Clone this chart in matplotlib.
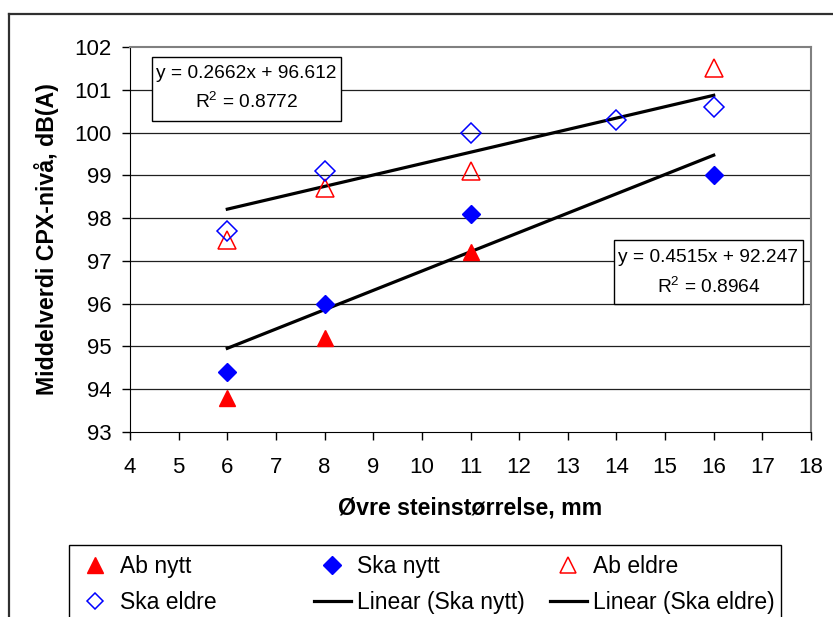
import numpy as np
import matplotlib
matplotlib.use("Agg")
import matplotlib.pyplot as plt
from matplotlib.lines import Line2D
from matplotlib.patches import Rectangle

plt.rcParams['font.family'] = ['Liberation Sans', 'DejaVu Sans']
plt.rcParams['mathtext.default'] = 'regular'

# ---- data ----
x_ab_nytt = [6, 8, 11]
y_ab_nytt = [93.8, 95.2, 97.2]
x_ska_nytt = [6, 8, 11, 16]
y_ska_nytt = [94.4, 96.0, 98.1, 99.0]
x_ab_eldre = [6, 8, 11, 16]
y_ab_eldre = [97.5, 98.7, 99.1, 101.5]
x_ska_eldre = [6, 8, 11, 14, 16]
y_ska_eldre = [97.7, 99.1, 100.0, 100.3, 100.6]
eq_ska_eldre = ["y = 0.2662x + 96.612", "R$^2$ = 0.8772"]
eq_ska_nytt = ["y = 0.4515x + 92.247", "R$^2$ = 0.8964"]
x_ticks = list(range(4, 19))
y_ticks = list(range(93, 103))

W, H = 833, 617
fig = plt.figure(figsize=(W / 100, H / 100), dpi=100)
fig.patch.set_facecolor('white')

def fx(px):
    return px / W

def fy(py):
    return 1 - py / H

ax = fig.add_axes([fx(130), fy(432), fx(811) - fx(130), fy(47) - fy(432)])
ax.set_xlim(4, 18)
ax.set_ylim(93, 102)
ax.set_xticks(x_ticks)
ax.set_yticks(y_ticks)
ax.tick_params(axis='both', direction='out', length=6, width=1, labelsize=16, colors='black')
ax.tick_params(axis='y', pad=7)
ax.tick_params(axis='x', pad=12)
for y in y_ticks[1:-1]:
    ax.axhline(y, color='#202020', lw=0.9, zorder=1)
ax.spines['left'].set_color('black')
ax.spines['bottom'].set_color('black')
ax.spines['top'].set_color('#808080')
ax.spines['right'].set_color('#808080')
ax.spines['top'].set_linewidth(1.5)
ax.spines['right'].set_linewidth(1.5)

# trend lines
def trend(xs, ys):
    k, m = np.polyfit(xs, ys, 1)
    xx = np.array([min(xs), max(xs)])
    return xx, k * xx + m

tx1, ty1 = trend(x_ska_nytt, y_ska_nytt)
tx2, ty2 = trend(x_ska_eldre, y_ska_eldre)
ax.plot(tx1, ty1, color='black', lw=2.3, zorder=3)
ax.plot(tx2, ty2, color='black', lw=2.3, zorder=3)

ax.plot(x_ab_nytt, y_ab_nytt, ls='none', marker='^', ms=11, color='red', mec='red', zorder=4)
ax.plot(x_ska_nytt, y_ska_nytt, ls='none', marker='D', ms=9, color='blue', mec='blue', zorder=4)
ax.plot(x_ab_eldre, y_ab_eldre, ls='none', marker='^', ms=13, mfc='none', mec='red', mew=1.1, zorder=4)
ax.plot(x_ska_eldre, y_ska_eldre, ls='none', marker='D', ms=10, mfc='none', mec='blue', mew=1.1, zorder=4)

ax.set_xlabel('Øvre steinstørrelse, mm', fontsize=16.7, fontweight='bold', labelpad=13)
ax.set_ylabel('Middelverdi CPX-nivå, dB(A)', fontsize=16.7, fontweight='bold', labelpad=11)

# equation boxes
def axy(py):
    return (432 - py) / 385

def axx(px):
    return (px - 130) / 681

def eq_box(x0, y0, x1, y1, lines, ly1, ly2):
    ax.add_patch(Rectangle((x0, y0), x1 - x0, y1 - y0, transform=ax.transAxes,
                           facecolor='white', edgecolor='black', lw=1, zorder=5))
    cx = (x0 + x1) / 2
    ax.text(cx, ly1, lines[0], transform=ax.transAxes, ha='center', va='center', fontsize=13.8, zorder=6)
    ax.text(cx, ly2, lines[1], transform=ax.transAxes, ha='center', va='center', fontsize=13.8, zorder=6)

eq_box(axx(152), axy(121), axx(341), axy(57), eq_ska_eldre, axy(73), axy(102))
eq_box(axx(614), axy(304), axx(803), axy(240), eq_ska_nytt, axy(258), axy(287))

# outer chart frame
fig.add_artist(Line2D([fx(9), fx(9)], [fy(14), fy(640)], color='#303030', lw=1.6))
fig.add_artist(Line2D([fx(9), fx(860)], [fy(14), fy(14)], color='#303030', lw=1.6))

# legend box
fig.add_artist(Rectangle((fx(69), fy(640)), fx(781) - fx(69), fy(545) - fy(640),
                         transform=fig.transFigure, facecolor='white', edgecolor='black', lw=1))

p_ab_nytt = Line2D([], [], ls='none', marker='^', ms=12, color='red')
p_ska_nytt = Line2D([], [], ls='none', marker='D', ms=9, color='blue')
p_ab_eldre = Line2D([], [], ls='none', marker='^', ms=11, mfc='none', mec='red', mew=1.1)
p_ska_eldre = Line2D([], [], ls='none', marker='D', ms=8, mfc='none', mec='blue', mew=1.1)
p_lin1 = Line2D([], [], color='black', lw=2.3)
p_lin2 = Line2D([], [], color='black', lw=2.3)

columns = [
    (77, [p_ab_nytt, p_ska_eldre], ['Ab nytt', 'Ska eldre']),
    (314, [p_ska_nytt, p_lin1], ['Ska nytt', 'Linear (Ska nytt)']),
    (550, [p_ab_eldre, p_lin2], ['Ab eldre', 'Linear (Ska eldre)']),
]
for x0, hs, ls in columns:
    lg = fig.legend(hs, ls, loc='upper left', bbox_to_anchor=(fx(x0), fy(555)),
                    frameon=False, fontsize=16.5, handlelength=1.6, handletextpad=0.26,
                    labelspacing=0.55, borderpad=0, borderaxespad=0)

fig.savefig('out.png', dpi=100)
